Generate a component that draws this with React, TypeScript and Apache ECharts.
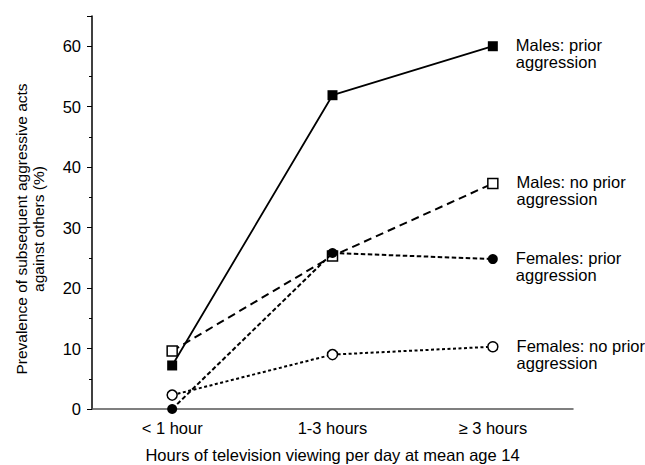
import React, { useEffect, useRef } from "react";
import * as echarts from "echarts";

const categories = ["< 1 hour", "1-3 hours", "≥ 3 hours"];
const malesPrior = [7.2, 51.9, 60];
const malesNoPrior = [9.6, 25.3, 37.3];
const femalesPrior = [0, 25.8, 24.8];
const femalesNoPrior = [2.3, 9.0, 10.3];
const seriesNames = [
  "Males: prior\naggression",
  "Males: no prior\naggression",
  "Females: prior\naggression",
  "Females: no prior\naggression",
];
const yAxisTitle = "Prevalence of subsequent aggressive acts\nagainst others (%)";
const xAxisTitle = "Hours of television viewing per day at mean age 14";

const FONT = "'Liberation Sans', Arial, Helvetica, sans-serif";

export default function App() {
  const ref = useRef<HTMLDivElement>(null);
  useEffect(() => {
    if (!ref.current) return;
    const chart = echarts.init(ref.current, undefined, { renderer: "svg" });
    const endLabel = (name: string) => ({
      show: true,
      position: "right",
      distance: 18,
      offset: [0, 7.5],
      color: "#000",
      fontFamily: FONT,
      fontSize: 16.5,
      lineHeight: 17,
      align: "left",
      formatter: (p: any) => (p.dataIndex === 2 ? name : ""),
    });
    const mk = (
      name: string,
      data: number[],
      symbol: string,
      filled: boolean,
      type: any,
      width: number,
      z: number
    ) => ({
      name,
      type: "line",
      data,
      symbol,
      symbolSize: 10,
      showSymbol: true,
      clip: false,
      z,
      lineStyle: { color: "#000", width, type },
      itemStyle: {
        color: filled ? "#000" : "#fff",
        borderColor: "#000",
        borderWidth: filled ? 0 : 1.5,
      },
      label: endLabel(name),
      emphasis: { disabled: true },
    });
    chart.setOption({
      animation: false,
      backgroundColor: "#fff",
      textStyle: { fontFamily: FONT },
      grid: {
        left: 92,
        right: 72,
        top: 16,
        bottom: 56,
        containLabel: false,
        outerBoundsMode: "none",
      },
      graphic: [
        {
          type: "text",
          x: 30,
          y: 229,
          rotation: Math.PI / 2,
          silent: true,
          style: {
            text: yAxisTitle,
            fill: "#000",
            fontSize: 15.5,
            fontFamily: FONT,
            lineHeight: 17,
            align: "center",
            verticalAlign: "middle",
          },
        },
      ],
      xAxis: {
        type: "category",
        data: categories,
        boundaryGap: true,
        axisLine: { show: true, lineStyle: { color: "#555", width: 1.5 } },
        axisTick: { show: false },
        axisLabel: { color: "#000", fontSize: 16.5, fontFamily: FONT, margin: 10 },
        name: xAxisTitle,
        nameLocation: "middle",
        nameGap: 37,
        nameTextStyle: { color: "#000", fontSize: 16.5, fontFamily: FONT },
      },
      yAxis: {
        type: "value",
        min: 0,
        max: 65,
        interval: 10,
        axisLine: { show: true, lineStyle: { color: "#000", width: 1.5 } },
        axisTick: { show: true, length: 5, lineStyle: { color: "#000" } },
        minorTick: { show: true, splitNumber: 2, length: 3, lineStyle: { color: "#000" } },
        splitLine: { show: false },
        axisLabel: { color: "#000", fontSize: 16.5, fontFamily: FONT, margin: 11, showMaxLabel: false },
      },
      series: [
        mk(seriesNames[0], malesPrior, "rect", true, "solid", 1.8, 5),
        mk(seriesNames[1], malesNoPrior, "rect", false, [8, 5], 2, 2),
        mk(seriesNames[3], femalesNoPrior, "circle", false, [3, 2.5], 2, 3),
        mk(seriesNames[2], femalesPrior, "circle", true, [4.5, 2.5], 2, 4),
      ],
    });
    return () => chart.dispose();
  }, []);
  return (
    <div
      ref={ref}
      style={{ position: "fixed", left: 0, top: 0, width: 645, height: 465 }}
    />
  );
}
